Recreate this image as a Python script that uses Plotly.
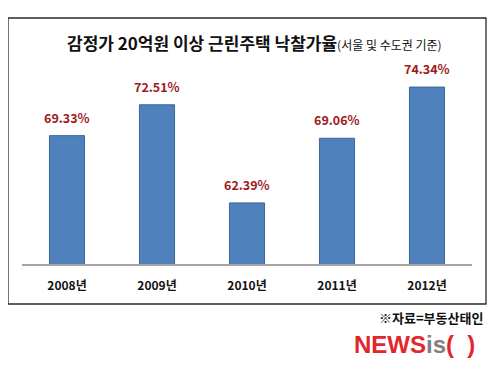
import plotly.graph_objects as go

categories = ["2008년", "2009년", "2010년", "2011년", "2012년"]
values = [69.33, 72.51, 62.39, 69.06, 74.34]
value_labels = ["69.33%", "72.51%", "62.39%", "69.06%", "74.34%"]

KR = "Noto Sans CJK KR, Noto Sans, sans-serif"

# page body has an 8px default margin; layout coordinates compensate for it
OFF = 8
PL, PR, PT, PB = 22 - OFF, 472 - OFF, 70 - OFF, 264 - OFF
PW, PH = PR - PL, PB - PT


def px(x):
    return (x - OFF - PL) / PW


def py(y):
    return (PB - (y - OFF)) / PH


fig = go.Figure()
fig.add_trace(go.Bar(
    x=categories, y=values, width=0.39,
    marker=dict(color="#4F81BD", line=dict(color="#3B6698", width=1)),
    hoverinfo="skip",
))

for c, v, t in zip(categories, values, value_labels):
    fig.add_annotation(x=c, y=v, text=f"<b>{t}</b>", showarrow=False,
                       yanchor="bottom", yshift=7,
                       font=dict(family=KR, size=12.5, color="#A1191D"))

fig.update_layout(
    width=500, height=378,
    margin=dict(l=PL, r=500 - PR, t=PT, b=378 - PB),
    paper_bgcolor="white", plot_bgcolor="white",
    showlegend=False,
    xaxis=dict(showline=True, linecolor="#A6A6A6", linewidth=1.5,
               ticks="", ticklabelstandoff=10,
               tickfont=dict(family=KR, size=12, color="#111111"),
               tickvals=categories,
               ticktext=[f"<b>{c}</b>" for c in categories],
               fixedrange=True),
    yaxis=dict(range=[56.09, 76.1], visible=False, showgrid=False, fixedrange=True),
    shapes=[dict(type="rect", xref="paper", yref="paper",
                 x0=px(8), x1=px(486), y0=py(304), y1=py(18),
                 line=dict(color="#2A2A2A", width=1.3), fillcolor="rgba(0,0,0,0)")],
)

fig.add_annotation(xref="paper", yref="paper", x=px(254), y=py(42),
                   text="<b>감정가 20억원 이상 근린주택 낙찰가율</b><span style='font-size:12px'>(서울 및 수도권 기준)</span>",
                   showarrow=False, xanchor="center", yanchor="middle",
                   font=dict(family=KR, size=17, color="#111111"))

fig.add_annotation(xref="paper", yref="paper", x=px(485), y=py(317),
                   text="<b>※자료=부동산태인</b>", showarrow=False,
                   xanchor="right", yanchor="middle",
                   font=dict(family=KR, size=13, color="#111111"))

fig.add_annotation(xref="paper", yref="paper", x=px(477), y=py(344),
                   text="<b><span style='color:#E3262C'>NEWS</span><span style='color:#808080'>is</span><span style='color:#E3262C'>(&nbsp;&nbsp;)</span></b>",
                   showarrow=False, xanchor="right", yanchor="middle",
                   font=dict(family="Liberation Sans Narrow, Arial Narrow, sans-serif", size=24))

fig.write_html("out.html")
